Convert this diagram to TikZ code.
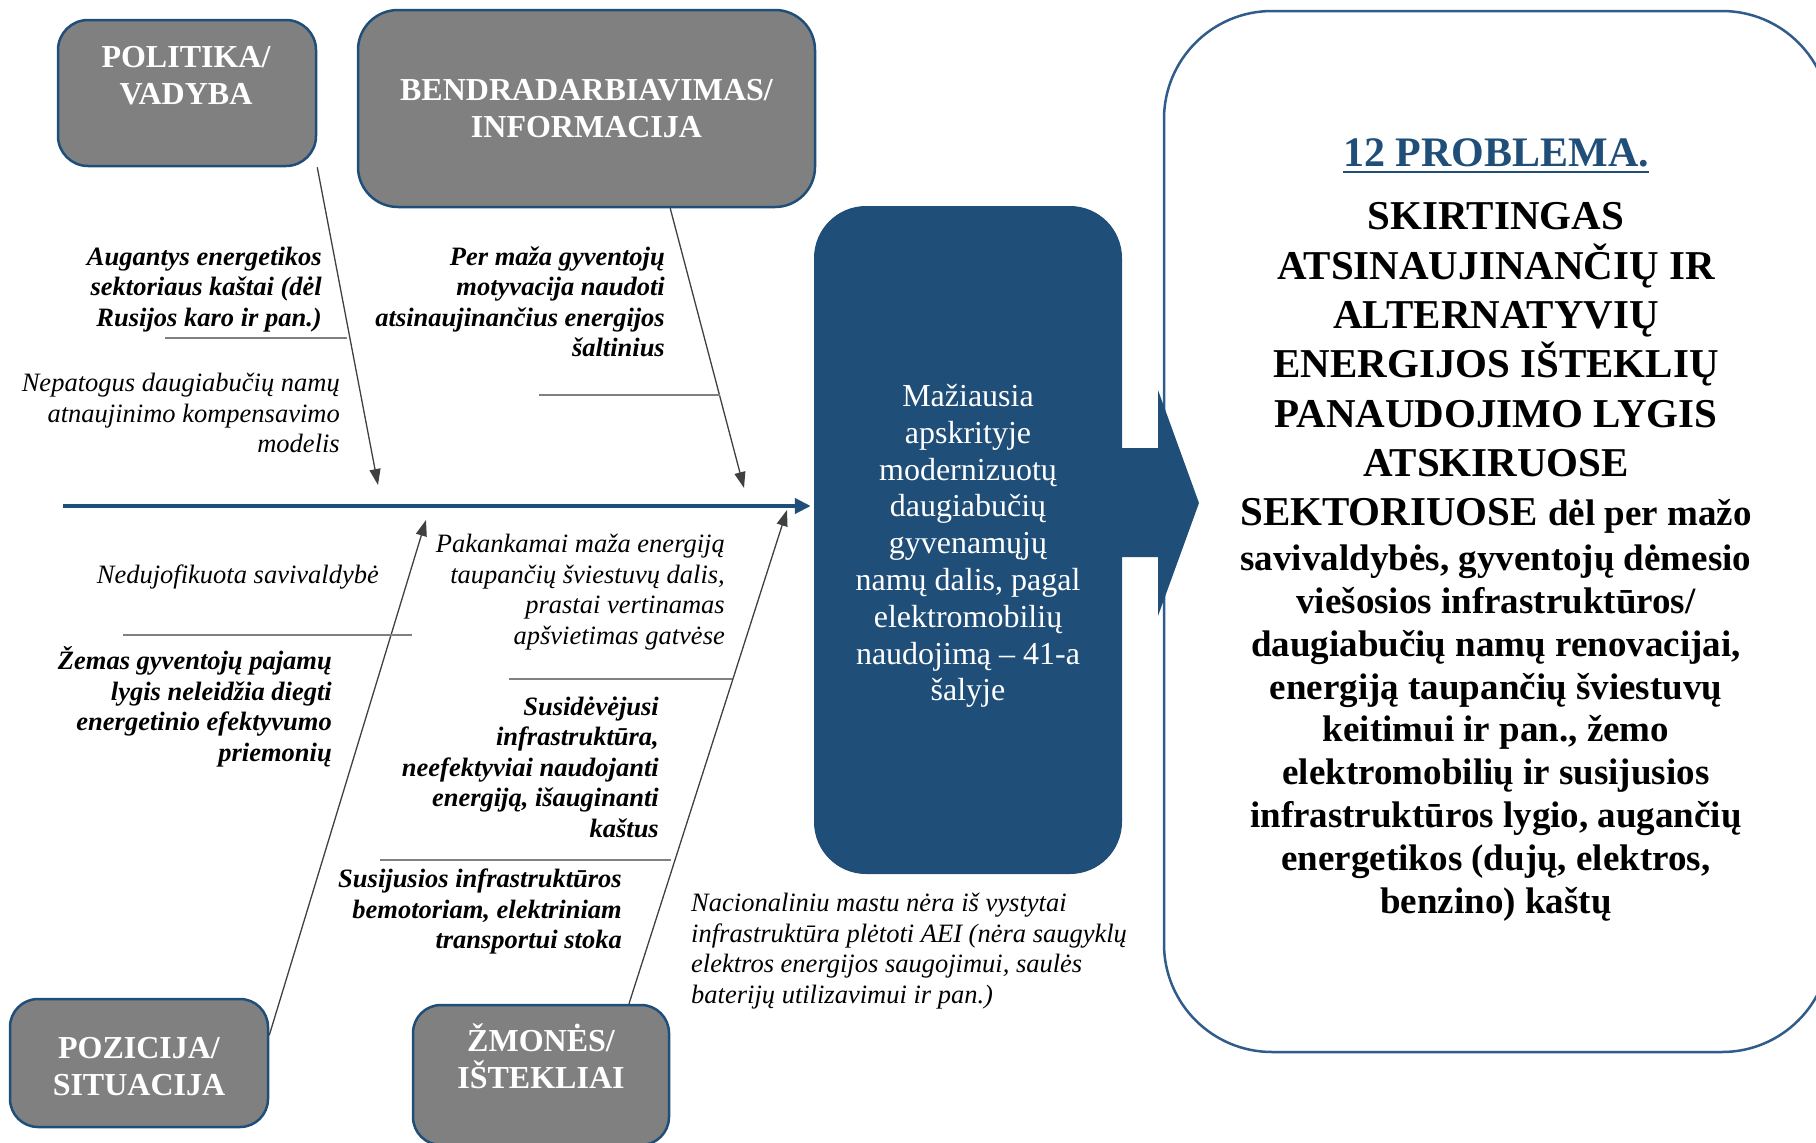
\documentclass[tikz,border=0pt]{standalone}
\usepackage{fontspec}
\setmainfont{Liberation Serif}
\usetikzlibrary{positioning,arrows.meta,calc}
\definecolor{navyc}{HTML}{1F4E79}
\definecolor{framec}{HTML}{2F5C8A}
\definecolor{greyc}{HTML}{808080}
\definecolor{bonec}{HTML}{404040}
\definecolor{ribc}{HTML}{808080}
\newcommand{\fs}[2]{\fontsize{#1}{#2}\selectfont}
\tikzset{
  cat/.style   ={draw=navyc,line width=2.5pt,fill=greyc,inner sep=0pt,
                 text=white,font=\fs{32}{37}\bfseries,align=center},
  cattxt/.style={text=white,font=\fs{32}{37}\bfseries,align=center,inner sep=0pt},
  cause/.style ={font=\fs{26.5}{30.5}\itshape,align=right,inner sep=0pt,anchor=east},
  causeb/.style={cause,font=\fs{26.5}{30.5}\bfseries\itshape},
  bone/.style  ={draw=bonec,line width=1.3pt,-{Triangle[length=16pt,width=11pt]}},
  rib/.style   ={draw=ribc,line width=1.4pt},
  spine/.style ={draw=navyc,line width=4pt,-{Triangle[length=16pt,width=15pt]}},
}

\begin{document}
\begin{tikzpicture}[x=1pt,y=-1pt]
\useasboundingbox (0,0) rectangle (1816,1143);
\clip (0,0) rectangle (1816,1143);

% ============================ problem box ================================
\node[draw=framec,line width=2.5pt,fill=white,rounded corners=108pt,
      minimum width=666pt,minimum height=1041pt,inner sep=0pt] (prob) at (1497,531.5) {};
\node[font=\fs{42}{49}\bfseries,text=navyc,inner sep=0pt,anchor=base] (head) at (1496,166) {12 PROBLEMA.};
\draw[navyc,line width=2.5pt] ($(head.base west)+(0,6)$) -- ($(head.base east)+(0,6)$);
\node[font=\fs{41}{49.3}\bfseries,align=center,inner sep=0pt,anchor=north] (capsb) at (1496,202.5)
  {SKIRTINGAS\\ATSINAUJINANČIŲ IR\\ALTERNATYVIŲ\\ENERGIJOS IŠTEKLIŲ\\PANAUDOJIMO LYGIS\\ATSKIRUOSE\\
   SEKTORIUOSE {\fs{37}{43}dėl per mažo}};
\node[font=\fs{37}{42.9}\bfseries,align=center,inner sep=0pt,anchor=north] (bodyb) at (1496,544.5)
  {savivaldybės, gyventojų dėmesio\\viešosios infrastruktūros/\\daugiabučių namų renovacijai,\\
   energiją taupančių šviestuvų\\keitimui ir pan., žemo\\elektromobilių ir susijusios\\
   infrastruktūros lygio, augančių\\energetikos (dujų, elektros,\\benzino) kaštų};

% ============================ effect ====================================
\node[fill=navyc,rounded corners=52pt,minimum width=308pt,minimum height=668pt] (core) at (968,540) {};
\node[text=white,align=center,font=\fs{32}{36.8},inner sep=0pt] (coret) at (968,546)
  {Mažiausia\\apskrityje\\modernizuotų\\daugiabučių\\gyvenamųjų\\namų dalis, pagal\\elektromobilių\\naudojimą – 41-a\\šalyje};
\fill[navyc] (1118,448) -- (1158,448) -- (1158,390) -- (1199,503) -- (1158,616) -- (1158,557) -- (1118,557) -- cycle;

% ============================ categories ================================
\node[cat,rounded corners=30pt,minimum width=258pt,minimum height=146pt] (pol) at (187,93) {};
\node[cattxt] (polt) at (186,76) {POLITIKA/\\VADYBA};
\node[cat,rounded corners=40pt,minimum width=457pt,minimum height=197pt] (ben) at (586.5,108.5)
  {BENDRADARBIAVIMAS/\\INFORMACIJA};
\node[cat,rounded corners=28pt,minimum width=258pt,minimum height=128pt] (pos) at (139,1063) {};
\node[cattxt] (post) at (139,1066.5) {POZICIJA/\\SITUACIJA};
\node[cat,rounded corners=28pt,minimum width=256pt,minimum height=140pt] (zmo) at (541,1075) {};
\node[cattxt] (zmot) at (541,1056.5) {ŽMONĖS/\\IŠTEKLIAI};

% ============================ bones =====================================
\coordinate (spineL) at (63,506);
\coordinate (tlEnd) at (378,485);
\coordinate (trEnd) at (744,488);
\coordinate (blEnd) at (426,520);
\coordinate (brEnd) at (787,510);
\draw[spine] (spineL) -- ($(spineL -| core.west)+(-3,0)$);
\draw[bone] (pol.south east) -- (tlEnd);
\draw[bone] (ben.-50) -- (trEnd);
\draw[bone] (pos.12.6) -- (blEnd);
\draw[bone] (zmo.39.8) -- (brEnd);
\draw[rib] (165,338) -- (347,338);
\draw[rib] (539,395) -- (720,395);
\draw[rib] (123,635) -- (412,635);
\draw[rib] (509,679) -- (732,679);
\draw[rib] (380,860) -- (671,860);

% ============================ causes ====================================
\node[causeb] (tlb) at (322,289.5) {Augantys energetikos\\sektoriaus kaštai (dėl\\Rusijos karo ir pan.)};
\node[cause]  (tli) at (340,413) {Nepatogus daugiabučių namų\\atnaujinimo kompensavimo\\modelis};
\node[causeb] (trb) at (665,302) {Per maža gyventojų\\motyvacija naudoti\\atsinaujinančius energijos\\šaltinius};
\node[cause]  (bli) at (379,577.5) {Nedujofikuota savivaldybė};
\node[causeb] (blb) at (332,707) {Žemas gyventojų pajamų\\lygis neleidžia diegti\\energetinio efektyvumo\\priemonių};
\node[cause]  (bri) at (725,592) {Pakankamai maža energiją\\taupančių šviestuvų dalis,\\prastai vertinamas\\apšvietimas gatvėse};
\node[causeb] (brb) at (659,767) {Susidėvėjusi\\infrastruktūra,\\neefektyviai naudojanti\\energiją, išauginanti\\kaštus};
\node[causeb] (brc) at (622,911.5) {Susijusios infrastruktūros\\bemotoriam, elektriniam\\transportui stoka};
\node[cause,anchor=west,align=left] (nat) at (691,951)
  {Nacionaliniu mastu nėra iš vystytai\\infrastruktūra plėtoti AEI (nėra saugyklų\\elektros energijos saugojimui, saulės\\baterijų utilizavimui ir pan.)};
\end{tikzpicture}
\end{document}
